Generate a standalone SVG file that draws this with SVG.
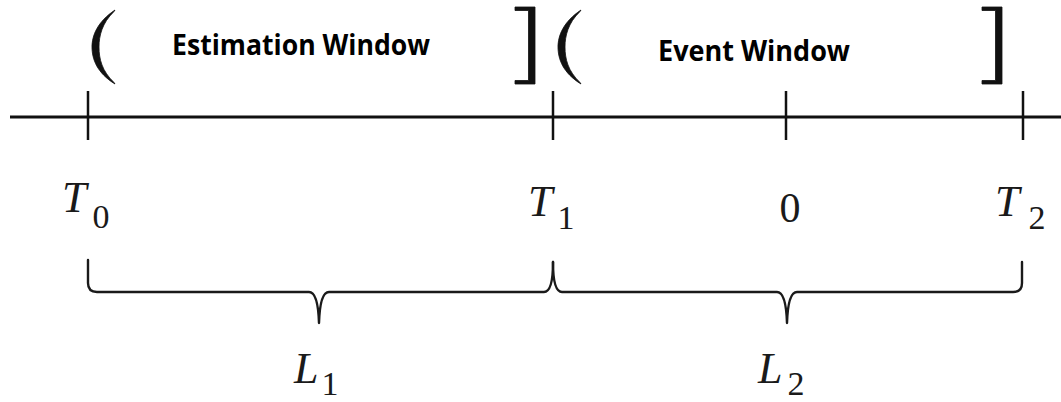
<svg xmlns="http://www.w3.org/2000/svg" width="1061" height="402" viewBox="0 0 1061 402">
  <style>
    .axis { stroke: #111; stroke-width: 3; fill: none; }
    .tick { stroke: #111; stroke-width: 2.5; fill: none; }
    .brace { stroke: #1a1a1a; stroke-width: 2.4; fill: none; stroke-linejoin: round; stroke-linecap: round; }
    .delim { fill: #111; stroke: #111; stroke-width: 0.8; stroke-linejoin: round; }
    .win { font-family: "Open Sans", "Liberation Sans", sans-serif; font-weight: bold; font-size: 28px; fill: #000; }
    .math { font-family: "Liberation Serif", "Times New Roman", serif; fill: #1a1a1a; }
    .var { font-style: italic; font-size: 44px; }
    .sub { font-size: 34px; }
  </style>
  <defs>
    <!-- opening round bracket of an interval -->
    <path id="open-paren" d="M23,0 C5,12 0,26 0,37 C0,49 5,63 23,74 L22,72.5 C10,61 7,49 7,37 C7,26 10,13 22,1.5 Z"/>
    <!-- closing square bracket of an interval -->
    <path id="close-square" d="M0,0 H20 V77 H0 V73.5 H13.5 V3.5 H0 Z"/>
  </defs>
  <rect width="1061" height="402" fill="#ffffff"/>

  <!-- time axis -->
  <g id="axis">
    <line class="axis" x1="10" y1="117" x2="1061" y2="117"/>
  </g>

  <!-- window brackets and titles -->
  <g id="estimation-window">
    <use href="#open-paren" class="delim" x="92" y="10"/>
    <use href="#close-square" class="delim" x="515" y="7"/>
    <text class="win" x="172" y="55" textLength="258" lengthAdjust="spacingAndGlyphs">Estimation Window</text>
  </g>
  <g id="event-window">
    <use href="#open-paren" class="delim" x="558" y="10"/>
    <use href="#close-square" class="delim" x="982" y="7"/>
    <text class="win" x="658" y="61" textLength="192" lengthAdjust="spacingAndGlyphs">Event Window</text>
  </g>

  <!-- tick marks with their labels -->
  <g id="tick-T0">
    <line class="tick" x1="88" y1="91" x2="88" y2="140"/>
    <text class="math" x="62" y="212"><tspan class="var">T</tspan><tspan class="sub" dx="6" dy="16">0</tspan></text>
  </g>
  <g id="tick-T1">
    <line class="tick" x1="553" y1="91" x2="553" y2="140"/>
    <text class="math" x="528" y="216"><tspan class="var">T</tspan><tspan class="sub" dx="5" dy="13">1</tspan></text>
  </g>
  <g id="tick-0">
    <line class="tick" x1="786" y1="91" x2="786" y2="140"/>
    <text class="math" x="790" y="222" font-size="42" text-anchor="middle">0</text>
  </g>
  <g id="tick-T2">
    <line class="tick" x1="1023" y1="91" x2="1023" y2="140"/>
    <text class="math" x="995" y="216"><tspan class="var">T</tspan><tspan class="sub" dx="9" dy="13">2</tspan></text>
  </g>

  <!-- span braces -->
  <g id="connectors">
    <path class="brace" d="M88,260 V283 Q88,292 97,292 H309 Q318,292 319,323 Q320,292 329,292 H544 Q553,292 553,262"/>
    <path class="brace" d="M553,262 Q553,292 562,292 H777 Q786,292 787,323 Q788,292 797,292 H1013 Q1022,292 1022,283 V262"/>
  </g>

  <!-- span lengths -->
  <g id="label-L1">
    <text class="math" x="294" y="383"><tspan class="var" font-size="50">L</tspan><tspan class="sub" dx="3" dy="12">1</tspan></text>
  </g>
  <g id="label-L2">
    <text class="math" x="758" y="383"><tspan class="var" font-size="50">L</tspan><tspan class="sub" dx="5" dy="12">2</tspan></text>
  </g>
</svg>
